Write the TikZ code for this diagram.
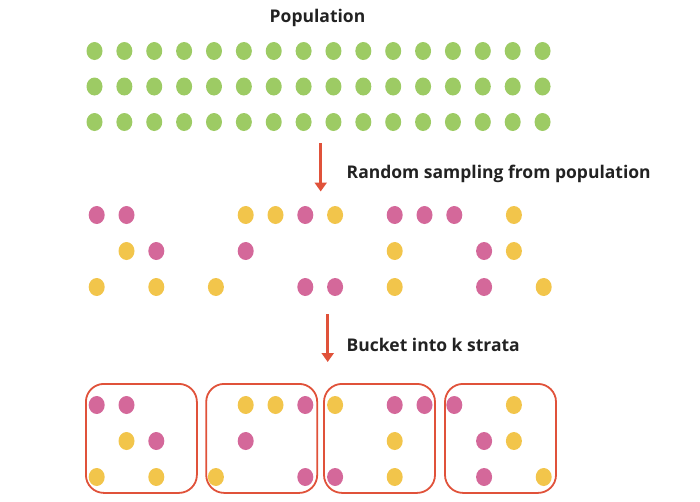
\documentclass[tikz,border=0pt]{standalone}
\usepackage{fontspec}
\setmainfont{Open Sans}
\usetikzlibrary{arrows.meta,shapes.geometric}
\definecolor{popgreen}{RGB}{157,203,100}
\definecolor{dotyellow}{RGB}{242,197,75}
\definecolor{dotpink}{RGB}{212,104,154}
\definecolor{arrowred}{RGB}{224,82,58}
\definecolor{textdark}{RGB}{34,34,34}
\tikzset{%
	dot/.style     = {ellipse, inner sep=0pt, minimum width=16pt, minimum height=18pt},
	stratum/.style = {draw=arrowred, line width=1.8pt, rounded corners=18pt, minimum width=111pt, minimum height=109pt},
	title/.style   = {font=\fontsize{17.5}{21}\selectfont\bfseries, text=textdark, inner sep=0pt},
	arrow/.style   = {draw=arrowred, line width=3pt, -{Triangle[width=12pt,length=9pt]}},
}

\begin{document}
\begin{tikzpicture}[x=1pt,y=-1pt]
	\useasboundingbox (0,0) rectangle (700,501);
	% population
	\node[title,anchor=base] (pop) at (317.5,22.7) {Population};
	\foreach \r in {0,1,2}
		\foreach \c in {0,...,15}
			\node[dot,fill=popgreen] (pop-\c-\r) at ({94.5+29.87*\c},{51+35.5*\r}) {};
	% sampling
	\coordinate (samptop) at (320.7,143);
	\coordinate (samptip) at (320.7,191.5);
	\draw[arrow] (samptop) -- (samptip);
	\node[title,anchor=base west] (samptext) at (346.5,178.3) {Random sampling from population};
	% strata
	\coordinate (buckettop) at (327.7,314);
	\coordinate (buckettip) at (327.7,362);
	\draw[arrow] (buckettop) -- (buckettip);
	\node[title,anchor=base west] (buckettext) at (346.5,351) {Bucket into k strata};
	\foreach \i/\x in {1/141.4,2/261.7,3/379.5,4/500.5}
		\node[stratum] (stratum\i) at (\x,438.4) {};
	% sample dots, and the same dots in their strata
	\foreach \c/\r/\k in {0/0/pink,1/0/pink,5/0/yellow,6/0/yellow,7/0/pink,8/0/yellow,10/0/pink,11/0/pink,12/0/pink,14/0/yellow,
		1/1/yellow,2/1/pink,5/1/pink,10/1/yellow,13/1/pink,14/1/yellow,
		0/2/yellow,2/2/yellow,4/2/yellow,7/2/pink,8/2/pink,10/2/yellow,13/2/pink,15/2/yellow}
	{
		\node[dot,fill=dot\k] (samp-\c-\r) at ({96.7+29.8*\c},{215+36*\r}) {};
		\node[dot,fill=dot\k] (strat-\c-\r) at ({96.7+29.8*\c},{405+36*\r}) {};
	}
\end{tikzpicture}
\end{document}
